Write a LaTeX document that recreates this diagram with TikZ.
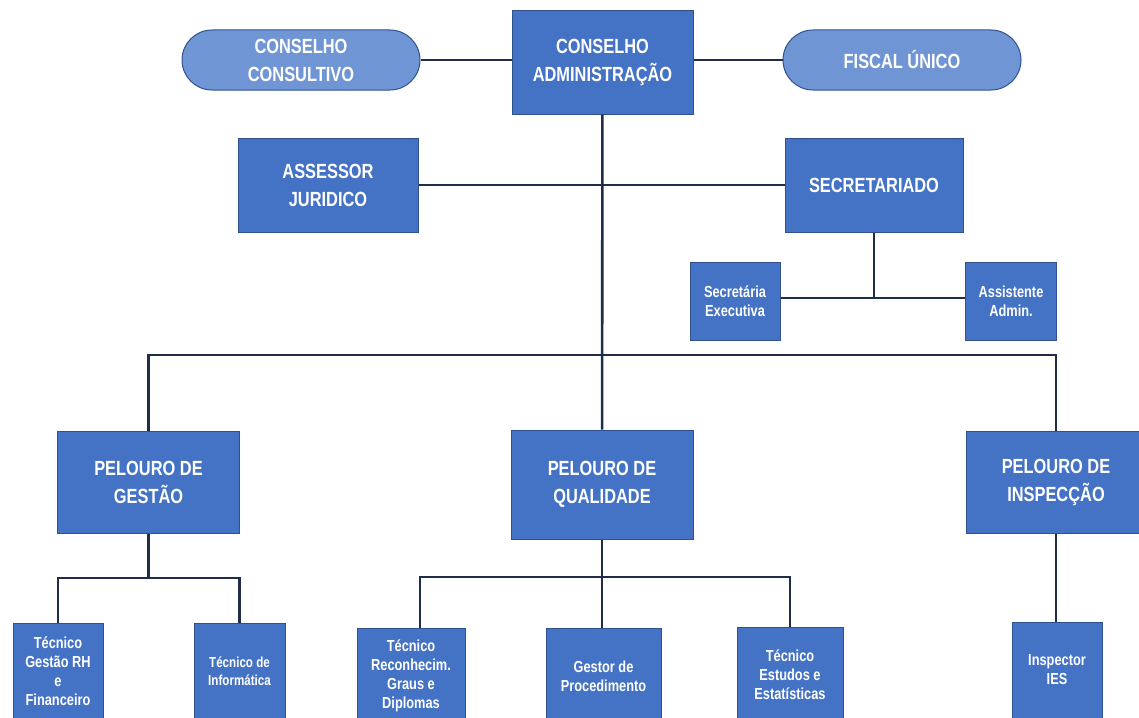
\documentclass[tikz,border=0pt]{standalone}
\usepackage{fontspec}
\setmainfont[FakeStretch=0.8]{Liberation Sans}
\definecolor{boxblue}{HTML}{4472C4}
\definecolor{boxedge}{HTML}{2F528F}
\definecolor{pillblue}{HTML}{7095D5}
\definecolor{linknavy}{HTML}{1F2D4A}
\tikzset{
	unit/.style={draw=boxedge, fill=boxblue, line width=1pt, text=white, align=center, inner sep=0pt, font=\bfseries\fontsize{20.5}{28}\selectfont},
	council/.style={unit, fill=pillblue, rounded corners=30pt},
	staff/.style={unit, font=\bfseries\fontsize{16}{19}\selectfont},
	link/.style={draw=linknavy, line width=2.6pt},
}
\begin{document}
\begin{tikzpicture}[x=1pt, y=-1pt]
		\useasboundingbox (0,0) rectangle (1139,717);
		% top level
		\node[unit, minimum width=181, minimum height=103] (ca) at (602.5,62.5) {CONSELHO\\ADMINISTRAÇÃO};
		\node[council, minimum width=238, minimum height=60] (cc) at (301,60) {CONSELHO\\CONSULTIVO};
		\node[council, minimum width=238, minimum height=60] (fu) at (902,60) {FISCAL ÚNICO};
		\node[unit, minimum width=180, minimum height=94] (aj) at (328,185) {ASSESSOR\\JURIDICO};
		\node[unit, minimum width=178, minimum height=94] (sec) at (874,185) {SECRETARIADO};
		\node[staff, minimum width=90, minimum height=78] (se) at (735,301) {Secretária\\Executiva};
		\node[staff, minimum width=91, minimum height=78] (aa) at (1011,301) {Assistente\\Admin.};
		% pelouros
		\node[unit, minimum width=182, minimum height=102] (pg) at (148.5,482) {PELOURO DE\\GESTÃO};
		\node[unit, minimum width=182, minimum height=109] (pq) at (602,484.5) {PELOURO DE\\QUALIDADE};
		\node[unit, minimum width=180, minimum height=102] (pi) at (1056,482) {PELOURO DE\\INSPECÇÃO};
		% tecnicos
		\node[staff, minimum width=90, minimum height=96] (tg) at (58,671) {Técnico\\Gestão RH\\e\\Financeiro};
		\node[staff, minimum width=91, minimum height=96, font=\bfseries\fontsize{14.5}{18}\selectfont] (ti) at (239.5,671) {Técnico de\\Informática};
		\node[staff, minimum width=108, minimum height=96] (tr) at (411,676) {Técnico\\Reconhecim.\\Graus e\\Diplomas};
		\node[staff, minimum width=115, minimum height=96] (gp) at (603.5,676) {Gestor de\\Procedimento};
		\node[staff, minimum width=106, minimum height=96] (te) at (790,675) {Técnico\\Estudos e\\Estatísticas};
		\node[staff, minimum width=90, minimum height=96] (ii) at (1057,670) {Inspector\\IES};
		% connectors
		\coordinate (secbus) at (874,298);
		\coordinate (bus) at (602,355);
		\coordinate (gbus) at (148.5,578);
		\coordinate (qbus) at (602,577);
		\coordinate (trtop) at (420,628);
		\draw[link] (cc.east) -- (ca.west |- cc.east);
		\draw[link] (ca.east |- fu.west) -- (fu.west);
		\draw[link] (ca) -- (pq);
		\draw[link] (aj) -- (sec);
		\draw[link] (sec.south) -- (secbus);
		\draw[link] (se.east |- secbus) -- (aa.west |- secbus);
		\draw[link] (pg.north) |- (bus) -| (pi.north);
		\draw[link] (pg.south) -- (gbus);
		\draw[link] (tg.north) |- (gbus) -| (ti.north);
		\draw[link] (pq.south) -- (pq.south |- gp.north);
		\draw[link] (trtop) |- (qbus) -| (te.north);
		\draw[link] (pi.south) -- (pi.south |- ii.north);
\end{tikzpicture}
\end{document}
